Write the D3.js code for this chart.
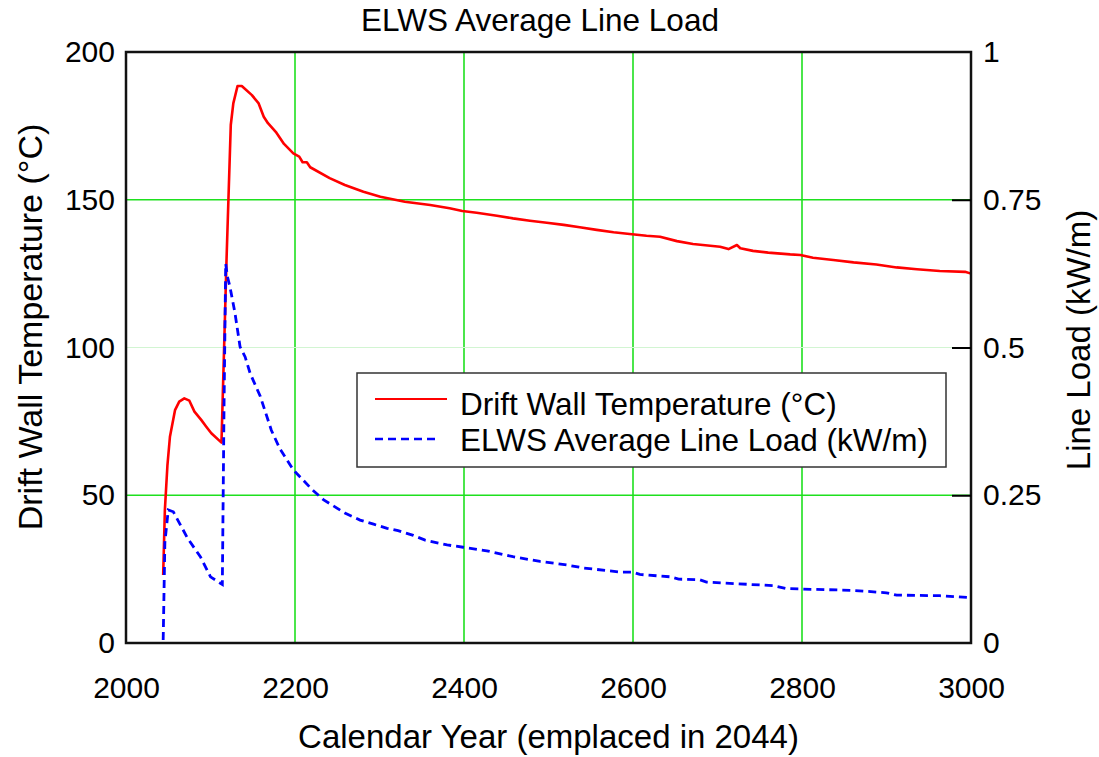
<!DOCTYPE html>
<html>
<head>
<meta charset="utf-8">
<script src="https://cdn.jsdelivr.net/npm/d3@7"></script>
<style>
    body { margin: 0; background: #fff; }
    svg { display: block; font-family: "Liberation Sans", Arial, sans-serif; }
</style>
</head>
<body>
<div id="chart"></div>
<script>
// Drift wall temperature (left axis, °C)
const tempYears = [2044, 2046, 2049, 2052, 2058, 2063, 2069, 2075, 2081, 2089, 2095, 2101, 2113,
    2119, 2124, 2127, 2132, 2137, 2149, 2157, 2163, 2168, 2178, 2187, 2198, 2205, 2209, 2214, 2218,
    2241, 2259, 2281, 2301, 2330, 2360, 2383, 2398, 2415, 2439, 2458, 2478, 2498, 2518, 2537, 2557,
    2577, 2596, 2616, 2632, 2652, 2671, 2703, 2713, 2723, 2727, 2742, 2760, 2786, 2798, 2813, 2837,
    2861, 2888, 2912, 2936, 2963, 2993, 3000];
const tempValues = [23, 45, 60, 69.8, 78.8, 81.7, 82.8, 82, 78.3, 75.5, 73.2, 71, 67.8,
    130, 175.3, 182.6, 188.5, 188.5, 185.4, 182.6, 178.1, 175.9, 172.7, 168.9, 165.7, 164.6, 162.7, 162.7, 161,
    157.3, 155, 152.7, 151, 149.3, 148.2, 147.1, 146.2, 145.6, 144.6, 143.7, 142.9, 142.2, 141.5, 140.7, 139.8,
    139, 138.4, 137.8, 137.5, 136, 135, 134.1, 133.3, 134.7, 133.6, 132.7, 132.1, 131.5, 131.3, 130.4, 129.6,
    128.8, 128.1, 127.1, 126.5, 125.9, 125.6, 125];

// ELWS average line load (right axis, kW/m)
const loadYears = [2044, 2046, 2050, 2056, 2073, 2088, 2100, 2114, 2116, 2118, 2120, 2123, 2129, 2135,
    2141, 2147, 2159, 2172, 2182, 2198, 2220, 2234, 2259, 2277, 2293, 2309, 2322, 2340, 2354, 2380,
    2399, 2427, 2458, 2490, 2522, 2541, 2585, 2600, 2608, 2644, 2654, 2679, 2687, 2766, 2782, 2861,
    2900, 2912, 2963, 2997];
const loadValues = [0.005, 0.17, 0.225, 0.222, 0.177, 0.146, 0.112, 0.099, 0.4, 0.642, 0.62, 0.603, 0.558, 0.501,
    0.484, 0.456, 0.417, 0.36, 0.329, 0.293, 0.26, 0.242, 0.22, 0.208, 0.201, 0.194, 0.19, 0.182, 0.174, 0.166,
    0.162, 0.156, 0.146, 0.138, 0.132, 0.127, 0.12, 0.12, 0.116, 0.112, 0.108, 0.107, 0.103, 0.097, 0.092, 0.089,
    0.085, 0.081, 0.08, 0.077];

const xTicks = [2000, 2200, 2400, 2600, 2800, 3000];
const leftTicks = [0, 50, 100, 150, 200];
const rightTicks = [0, 0.25, 0.5, 0.75, 1];
const gridYears = [2200, 2400, 2600, 2800];
const gridTemps = [50, 100, 150];

const chartTitle = 'ELWS Average Line Load';
const xLabel = 'Calendar Year (emplaced in 2044)';
const leftLabel = 'Drift Wall Temperature (°C)';
const rightLabel = 'Line Load (kW/m)';
const legendItems = ['Drift Wall Temperature (°C)', 'ELWS Average Line Load (kW/m)'];

document.addEventListener('DOMContentLoaded', dibujar);

function dibujar() {
    const width = 1099, height = 757;
    const m = { left: 126, right: 971, top: 52, bottom: 643 };

    const svg = d3.select('#chart').append('svg')
        .attr('width', width)
        .attr('height', height);

    const x = d3.scaleLinear().domain([2000, 3000]).range([m.left, m.right]);
    const yTemp = d3.scaleLinear().domain([0, 200]).range([m.bottom, m.top]);
    const yLoad = d3.scaleLinear().domain([0, 1]).range([m.bottom, m.top]);

    // rejilla verde
    svg.append('g').selectAll('line')
        .data(gridYears)
        .enter().append('line')
        .attr('x1', d => x(d)).attr('x2', d => x(d))
        .attr('y1', m.top).attr('y2', m.bottom)
        .attr('stroke', '#1ee01e')
        .attr('stroke-width', 1.6);
    svg.append('g').selectAll('line')
        .data(gridTemps)
        .enter().append('line')
        .attr('x1', m.left).attr('x2', m.right)
        .attr('y1', d => yTemp(d)).attr('y2', d => yTemp(d))
        .attr('stroke', d => d === 100 ? '#d2f5d2' : '#1ee01e')
        .attr('stroke-width', d => d === 100 ? 1 : 1.6);

    // curvas
    const lineTemp = d3.line()
        .x((d, i) => x(tempYears[i]))
        .y(d => yTemp(d));
    const lineLoad = d3.line()
        .x((d, i) => x(loadYears[i]))
        .y(d => yLoad(d));

    svg.append('path')
        .datum(tempValues)
        .attr('d', lineTemp)
        .attr('fill', 'none')
        .attr('stroke', '#ff0000')
        .attr('stroke-width', 2.6)
        .attr('stroke-linejoin', 'round');

    svg.append('path')
        .datum(loadValues)
        .attr('d', lineLoad)
        .attr('fill', 'none')
        .attr('stroke', '#0000ff')
        .attr('stroke-width', 2.8)
        .attr('stroke-dasharray', '8,5');

    // marco
    svg.append('rect')
        .attr('x', m.left).attr('y', m.top)
        .attr('width', m.right - m.left)
        .attr('height', m.bottom - m.top)
        .attr('fill', 'none')
        .attr('stroke', '#111')
        .attr('stroke-width', 2.5);

    // ejes
    const axisBottom = svg.append('g')
        .attr('transform', `translate(0,${m.bottom})`)
        .call(d3.axisBottom(x).tickValues(xTicks).tickSize(0).tickPadding(34).tickFormat(d3.format('d')));
    const axisLeft = svg.append('g')
        .attr('transform', `translate(${m.left},0)`)
        .call(d3.axisLeft(yTemp).tickValues(leftTicks).tickSize(0).tickPadding(11));
    const axisRight = svg.append('g')
        .attr('transform', `translate(${m.right},0)`)
        .call(d3.axisRight(yLoad).tickValues(rightTicks).tickSizeInner(-19).tickSizeOuter(0).tickPadding(12)
            .tickFormat(d => String(d)));

    [axisBottom, axisLeft, axisRight].forEach(g => {
        g.select('.domain').remove();
        g.selectAll('text')
            .attr('font-family', '"Liberation Sans", Arial, sans-serif')
            .attr('font-size', '30px')
            .attr('fill', '#000');
    });
    axisRight.selectAll('.tick line')
        .attr('stroke', '#000')
        .attr('stroke-width', 2)
        .attr('display', d => (d === 0 || d === 1) ? 'none' : null);

    // títulos
    svg.append('text')
        .attr('x', 540).attr('y', 31)
        .attr('text-anchor', 'middle')
        .attr('font-size', '31.5px')
        .text(chartTitle);
    svg.append('text')
        .attr('x', (m.left + m.right) / 2).attr('y', 748)
        .attr('text-anchor', 'middle')
        .attr('font-size', '33px')
        .text(xLabel);
    svg.append('text')
        .attr('transform', 'translate(42,327) rotate(-90)')
        .attr('text-anchor', 'middle')
        .attr('font-size', '34px')
        .text(leftLabel);
    svg.append('text')
        .attr('transform', 'translate(1090,340) rotate(-90)')
        .attr('text-anchor', 'middle')
        .attr('font-size', '33px')
        .text(rightLabel);

    // leyenda
    const leg = svg.append('g');
    leg.append('rect')
        .attr('x', 357).attr('y', 373)
        .attr('width', 589).attr('height', 94)
        .attr('fill', '#fff')
        .attr('stroke', '#333')
        .attr('stroke-width', 1.5);
    leg.append('line')
        .attr('x1', 375).attr('x2', 447).attr('y1', 399).attr('y2', 399)
        .attr('stroke', '#ff0000').attr('stroke-width', 2.2);
    leg.append('line')
        .attr('x1', 375).attr('x2', 440).attr('y1', 439).attr('y2', 439)
        .attr('stroke', '#0000ff').attr('stroke-width', 2.6)
        .attr('stroke-dasharray', '8,5');
    leg.selectAll('text.item')
        .data(legendItems)
        .enter().append('text')
        .attr('class', 'item')
        .attr('x', 460)
        .attr('y', (d, i) => 415 + i * 36)
        .attr('font-size', '31.5px')
        .text(d => d);
}
</script>
</body>
</html>
